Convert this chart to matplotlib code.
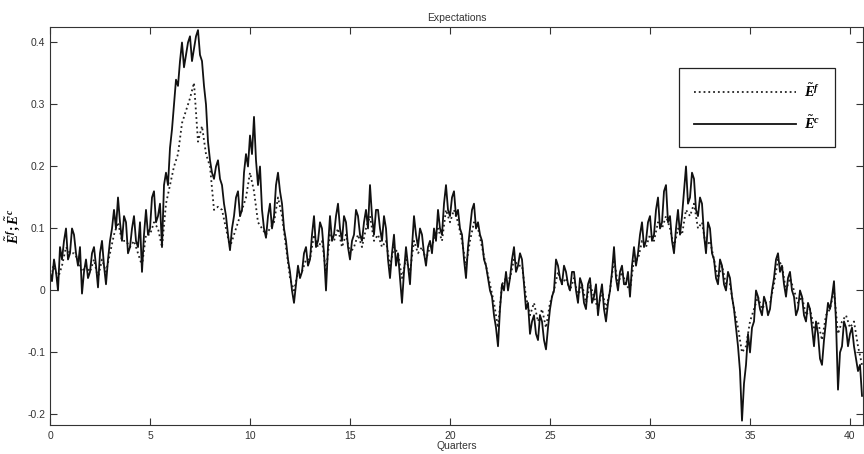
import numpy as np
import matplotlib.pyplot as plt

# quarters for each series (E^c read every 0.1, E^f every 0.2)
quarters_c = np.round(np.arange(0, 40.61, 0.1), 1)
quarters_f = np.round(np.arange(0, 40.61, 0.2), 1)

# E^c (solid)
e_c = [
    0.03, 0.015, 0.05, 0.03, 0.00, 0.07, 0.05, 0.08, 0.10, 0.05, 0.06, 0.10, 0.09, 0.06, 0.04, 0.07, -0.005, 0.03, 0.05, 0.02,
    0.03, 0.06, 0.07, 0.04, 0.005, 0.06, 0.08, 0.04, 0.01, 0.05, 0.08, 0.10, 0.13, 0.10, 0.15, 0.11, 0.08, 0.12, 0.11, 0.06,
    0.07, 0.10, 0.12, 0.08, 0.07, 0.11, 0.03, 0.09, 0.13, 0.09, 0.10, 0.15, 0.16, 0.11, 0.12, 0.14, 0.07, 0.17, 0.19, 0.17,
    0.23, 0.26, 0.30, 0.34, 0.33, 0.37, 0.40, 0.36, 0.38, 0.40, 0.41, 0.37, 0.39, 0.41, 0.42, 0.38, 0.37, 0.33, 0.30, 0.24,
    0.21, 0.19, 0.18, 0.20, 0.21, 0.18, 0.17, 0.14, 0.12, 0.09, 0.065, 0.10, 0.12, 0.15, 0.16, 0.12, 0.13, 0.19, 0.22, 0.20,
    0.25, 0.22, 0.28, 0.21, 0.17, 0.20, 0.13, 0.10, 0.085, 0.12, 0.14, 0.10, 0.12, 0.17, 0.19, 0.16, 0.14, 0.10, 0.08, 0.05,
    0.03, 0.00, -0.02, 0.01, 0.04, 0.02, 0.03, 0.06, 0.07, 0.04, 0.05, 0.09, 0.12, 0.07, 0.08, 0.11, 0.10, 0.06, 0.00, 0.07,
    0.12, 0.08, 0.09, 0.12, 0.14, 0.10, 0.08, 0.12, 0.11, 0.07, 0.05, 0.08, 0.09, 0.13, 0.12, 0.09, 0.08, 0.11, 0.13, 0.10,
    0.17, 0.12, 0.09, 0.13, 0.13, 0.10, 0.08, 0.12, 0.10, 0.05, 0.02, 0.06, 0.09, 0.04, 0.06, 0.02, -0.02, 0.03, 0.07, 0.04,
    0.01, 0.07, 0.12, 0.09, 0.07, 0.10, 0.09, 0.06, 0.04, 0.07, 0.08, 0.06, 0.10, 0.08, 0.13, 0.10, 0.09, 0.14, 0.17, 0.13,
    0.12, 0.15, 0.16, 0.12, 0.13, 0.10, 0.09, 0.05, 0.02, 0.07, 0.10, 0.13, 0.14, 0.10, 0.11, 0.09, 0.08, 0.05, 0.04, 0.02,
    0.00, -0.01, -0.04, -0.06, -0.09, -0.03, 0.01, 0.00, 0.03, 0.00, 0.02, 0.05, 0.07, 0.03, 0.04, 0.06, 0.05, 0.01, -0.03, -0.02,
    -0.07, -0.05, -0.04, -0.07, -0.08, -0.04, -0.05, -0.08, -0.095, -0.06, -0.03, -0.01, 0.00, 0.05, 0.04, 0.02, 0.01, 0.04, 0.03, 0.01,
    0.00, 0.03, 0.03, 0.00, -0.02, 0.02, 0.01, -0.02, -0.03, 0.01, 0.02, -0.02, -0.01, 0.01, -0.04, -0.01, 0.01, -0.03, -0.05, -0.02,
    0.00, 0.03, 0.07, 0.02, 0.00, 0.03, 0.04, 0.01, 0.01, 0.03, -0.01, 0.04, 0.07, 0.04, 0.06, 0.09, 0.11, 0.07, 0.08, 0.11,
    0.12, 0.08, 0.09, 0.13, 0.15, 0.10, 0.11, 0.16, 0.17, 0.11, 0.12, 0.08, 0.06, 0.10, 0.13, 0.09, 0.12, 0.16, 0.20, 0.14,
    0.15, 0.19, 0.18, 0.13, 0.12, 0.15, 0.14, 0.09, 0.06, 0.11, 0.10, 0.06, 0.05, 0.02, 0.01, 0.05, 0.04, 0.01, 0.00, 0.03,
    0.02, -0.01, -0.03, -0.06, -0.09, -0.13, -0.21, -0.15, -0.12, -0.07, -0.10, -0.06, -0.05, 0.00, -0.01, -0.03, -0.04, -0.01, -0.02, -0.04,
    -0.03, 0.00, 0.02, 0.05, 0.06, 0.03, 0.04, 0.01, -0.01, 0.02, 0.03, 0.00, -0.01, -0.04, -0.03, 0.00, -0.01, -0.04, -0.05, -0.02,
    -0.03, -0.06, -0.09, -0.05, -0.07, -0.11, -0.12, -0.08, -0.05, -0.02, -0.03, -0.01, 0.015, -0.05, -0.16, -0.10, -0.09, -0.05, -0.06, -0.09,
    -0.07, -0.06, -0.09, -0.11, -0.13, -0.12, -0.17,
]

# E^f (dotted)
e_f = [
    0.03, 0.04, 0.02, 0.04, 0.07, 0.06, 0.06, 0.05, 0.03, 0.04,
    0.03, 0.05, 0.02, 0.05, 0.03, 0.06, 0.09, 0.11, 0.08, 0.08,
    0.07, 0.08, 0.06, 0.04, 0.09, 0.09, 0.11, 0.10, 0.07, 0.14,
    0.17, 0.20, 0.22, 0.27, 0.29, 0.31, 0.335, 0.24, 0.265, 0.22,
    0.20, 0.13, 0.135, 0.13, 0.10, 0.07, 0.09, 0.11, 0.13, 0.15,
    0.19, 0.16, 0.11, 0.10, 0.09, 0.10, 0.11, 0.15, 0.12, 0.07,
    0.02, 0.00, 0.03, 0.03, 0.05, 0.05, 0.09, 0.07, 0.08, 0.03,
    0.09, 0.08, 0.10, 0.07, 0.09, 0.06, 0.07, 0.09, 0.07, 0.10,
    0.12, 0.08, 0.09, 0.07, 0.08, 0.04, 0.07, 0.06, 0.02, 0.05,
    0.03, 0.08, 0.06, 0.07, 0.05, 0.07, 0.08, 0.10, 0.08, 0.13,
    0.11, 0.13, 0.11, 0.08, 0.04, 0.08, 0.11, 0.10, 0.07, 0.04,
    0.01, -0.02, -0.06, 0.01, 0.02, 0.02, 0.05, 0.04, 0.04, -0.01,
    -0.04, -0.02, -0.05, -0.03, -0.06, -0.02, 0.00, 0.03, 0.01, 0.02,
    0.00, 0.02, -0.01, 0.01, -0.02, 0.01, -0.01, -0.03, 0.00, -0.03,
    0.00, 0.05, 0.01, 0.03, 0.01, 0.00, 0.05, 0.05, 0.08, 0.07,
    0.09, 0.08, 0.11, 0.10, 0.12, 0.10, 0.07, 0.10, 0.09, 0.13,
    0.12, 0.14, 0.10, 0.11, 0.07, 0.08, 0.05, 0.02, 0.04, 0.01,
    0.01, -0.03, -0.06, -0.10, -0.09, -0.05, -0.03, -0.01, -0.03, -0.02,
    -0.02, 0.01, 0.05, 0.04, 0.00, 0.02, 0.00, -0.02, -0.01, -0.04,
    -0.03, -0.06, -0.05, -0.08, -0.04, -0.03, 0.00, -0.07, -0.05, -0.04,
    -0.06, -0.05, -0.09, -0.12,
]

xticks = [0, 5, 10, 15, 20, 25, 30, 35, 40]
yticks = [-0.2, -0.1, 0, 0.1, 0.2, 0.3, 0.4]
ytick_labels = ['-0.2', '-0.1', '0', '0.1', '0.2', '0.3', '0.4']

plt.rcParams['font.family'] = 'Liberation Sans'
plt.rcParams['mathtext.fontset'] = 'custom'
plt.rcParams['mathtext.it'] = 'Liberation Serif:italic:bold'
plt.rcParams['mathtext.rm'] = 'Liberation Serif:bold'

fig = plt.figure(figsize=(8.64, 4.54), dpi=100)
ax = fig.add_axes([50 / 864, 1 - 425 / 454, 813 / 864, 398 / 454])

ax.plot(quarters_f, e_f, color='#222222', linestyle=':', linewidth=1.3, label=r'$\tilde{E}^{f}$')
ax.plot(quarters_c, e_c, color='#111111', linestyle='-', linewidth=1.3, label=r'$\tilde{E}^{c}$')

ax.set_xlim(0, 40.65)
ax.set_ylim(-0.217, 0.425)
ax.set_xticks(xticks)
ax.set_yticks(yticks)
ax.set_yticklabels(ytick_labels)
ax.tick_params(direction='in', length=5, width=0.8, labelsize=7.5, colors='#333333',
               top=True, right=True)
ax.tick_params(axis='x', pad=4)
for s in ax.spines.values():
    s.set_linewidth(0.8)
    s.set_color('#333333')

ax.set_title('Expectations', fontsize=7.5, color='#333333', pad=4)
ax.set_xlabel('Quarters', fontsize=7.5, color='#333333', labelpad=0)
ax.set_ylabel(r'$\tilde{E}^{f};\tilde{E}^{c}$', fontsize=10, labelpad=4)

leg = ax.legend(loc='upper right', bbox_to_anchor=(0.975, 0.915), fontsize=10.5,
                fancybox=False, edgecolor='#222222', framealpha=1,
                handlelength=7, handletextpad=0.6, borderpad=1.0, labelspacing=1.0)
leg.get_frame().set_linewidth(0.9)

fig.savefig('out.png', dpi=100)
